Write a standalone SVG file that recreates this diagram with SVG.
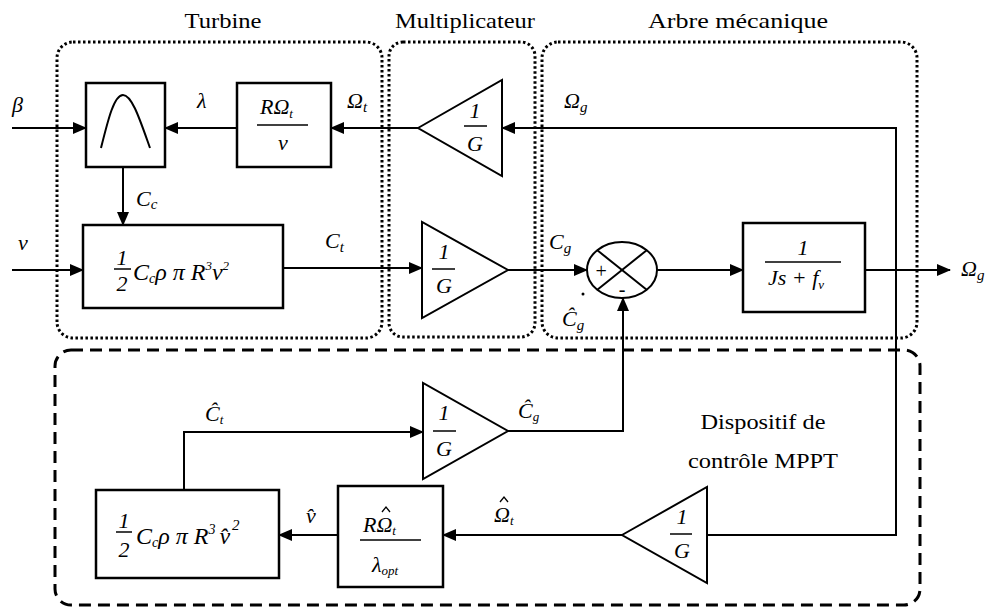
<svg xmlns="http://www.w3.org/2000/svg" width="991" height="607" viewBox="0 0 991 607" font-family="'Liberation Serif', 'DejaVu Serif', 'Times New Roman', serif">
<style>
.blk{fill:#fff;stroke:#000;stroke-width:2.5}
.tri{fill:#fff;stroke:#000;stroke-width:2}
.ln{fill:none;stroke:#000;stroke-width:2}
.hat{fill:none;stroke:#000;stroke-width:1.3}
.dot{fill:none;stroke:#000;stroke-width:3;stroke-dasharray:2.5 2.5}
.dash{fill:none;stroke:#000;stroke-width:3;stroke-dasharray:12 7}
text{font-family:'Liberation Serif','DejaVu Serif',serif;fill:#000}
.m{font-style:italic;font-size:22px}
.f{font-style:italic;font-size:24px}
.lab{font-size:21px}
.fr{stroke:#000;stroke-width:1.5}
</style>
<defs>
<marker id="ah" markerUnits="userSpaceOnUse" markerWidth="14" markerHeight="12" refX="13" refY="6" orient="auto">
<path d="M0,0 L14,6 L0,12 Z" fill="#000"/>
</marker>
</defs>

<g id="frames">
<rect class="dot" x="57" y="42" width="325" height="296" rx="16"/>
<rect class="dot" x="389" y="42" width="146" height="295" rx="14"/>
<rect class="dot" x="542" y="42" width="375" height="296" rx="16"/>
<rect class="dash" x="55" y="350" width="865" height="255" rx="16"/>
<text class="lab" x="223" y="28" text-anchor="middle" textLength="77" lengthAdjust="spacingAndGlyphs">Turbine</text>
<text class="lab" x="465" y="28" text-anchor="middle" textLength="140" lengthAdjust="spacingAndGlyphs">Multiplicateur</text>
<text class="lab" x="738" y="28" text-anchor="middle" textLength="180" lengthAdjust="spacingAndGlyphs">Arbre mécanique</text>
<text class="lab" x="763" y="429" text-anchor="middle" textLength="125" lengthAdjust="spacingAndGlyphs">Dispositif de</text>
<text class="lab" x="763" y="468" text-anchor="middle" textLength="150" lengthAdjust="spacingAndGlyphs">contrôle MPPT</text>
</g>

<g id="connectors">
<path class="ln" d="M12,128 H86" marker-end="url(#ah)"/>
<path class="ln" d="M237,128 H165" marker-end="url(#ah)"/>
<path class="ln" d="M418,128 H331" marker-end="url(#ah)"/>
<path class="ln" d="M707,535 H896 V128 H502" marker-end="url(#ah)"/>
<path class="ln" d="M123,167 V225" marker-end="url(#ah)"/>
<path class="ln" d="M12,270 H83" marker-end="url(#ah)"/>
<path class="ln" d="M283,268 H422" marker-end="url(#ah)"/>
<path class="ln" d="M508,270 H587" marker-end="url(#ah)"/>
<path class="ln" d="M657,270 H743" marker-end="url(#ah)"/>
<path class="ln" d="M865,270 H950" marker-end="url(#ah)"/>
<path class="ln" d="M508,431 H623 V298" marker-end="url(#ah)"/>
<path class="ln" d="M184,490 V432 H423" marker-end="url(#ah)"/>
<path class="ln" d="M622,535 H443" marker-end="url(#ah)"/>
<path class="ln" d="M338,535 H279" marker-end="url(#ah)"/>
<text class="m" x="12" y="112">β</text>
<text class="m" x="197" y="108">λ</text>
<text class="m" x="347" y="108">Ω<tspan font-size="15" dy="4">t</tspan></text>
<text class="m" x="564" y="108">Ω<tspan font-size="15" dy="4">g</tspan></text>
<text class="m" x="136" y="206">C<tspan font-size="15" dy="3">c</tspan></text>
<text class="m" x="18" y="250">v</text>
<text class="m" x="325" y="248">C<tspan font-size="15" dy="4">t</tspan></text>
<text class="m" x="549" y="249">C<tspan font-size="15" dy="4">g</tspan></text>
<text class="m" x="562" y="326">Ĉ<tspan font-size="15" dy="4">g</tspan></text>
<circle cx="583" cy="294" r="1.5" fill="#000"/>
<text class="m" x="961" y="276">Ω<tspan font-size="15" dy="4">g</tspan></text>
<text class="m" x="205" y="421">Ĉ<tspan font-size="13" dy="3">t</tspan></text>
<text class="m" x="518" y="418">Ĉ<tspan font-size="13" dy="3">g</tspan></text>
<text class="m" x="494" y="522">Ω<tspan font-size="13" dy="3">t</tspan></text>
<polyline class="hat" points="500,502 504,497 508,502"/>
<text class="m" x="306" y="523">v&#x302;</text>
</g>

<g id="bell">
<rect class="blk" x="86" y="83" width="79" height="84"/>
<path class="ln" d="M101,148 C108,120 114,95 123,95 C132,95 140,120 150,148"/>
</g>

<g id="ratio">
<rect class="blk" x="237" y="83" width="94" height="84"/>
<text class="m" x="260" y="114">RΩ<tspan font-size="13" dy="4">t</tspan></text>
<line class="fr" x1="257" y1="125" x2="308" y2="125"/>
<text class="m" x="283" y="150" text-anchor="middle">v</text>
</g>

<g id="gain_top">
<polygon class="tri" points="418,128 502,80 502,176"/>
<text class="m" x="475" y="118" text-anchor="middle">1</text>
<line class="fr" x1="464" y1="126" x2="487" y2="126"/>
<text class="m" x="475" y="151" text-anchor="middle">G</text>
</g>

<g id="torque">
<rect class="blk" x="83" y="225" width="200" height="83"/>
<text class="m" x="122" y="265" text-anchor="middle">1</text>
<line class="fr" x1="114" y1="269" x2="131" y2="269"/>
<text class="m" x="122" y="291" text-anchor="middle">2</text>
<text class="f" x="133" y="280">C<tspan font-size="14" dy="3">c</tspan><tspan dy="-3">ρ π R</tspan><tspan font-size="13" dy="-10">3</tspan><tspan dy="10">v</tspan><tspan font-size="13" dy="-10">2</tspan></text>
</g>

<g id="gain_mid">
<polygon class="tri" points="422,222 422,318 508,270"/>
<text class="m" x="444" y="259" text-anchor="middle">1</text>
<line class="fr" x1="432" y1="269" x2="455" y2="269"/>
<text class="m" x="444" y="293" text-anchor="middle">G</text>
</g>

<g id="sum">
<ellipse cx="622" cy="270" rx="35" ry="28" fill="#fff" stroke="#000" stroke-width="2"/>
<line class="ln" x1="597" y1="250" x2="647" y2="290"/>
<line class="ln" x1="647" y1="250" x2="597" y2="290"/>
<text x="601" y="278" font-size="20" font-style="italic" text-anchor="middle">+</text>
<text x="622" y="296" font-size="20" text-anchor="middle">-</text>
</g>

<g id="mech">
<rect class="blk" x="743" y="223" width="122" height="89"/>
<text class="m" x="803" y="255" text-anchor="middle">1</text>
<line class="fr" x1="765" y1="262" x2="841" y2="262"/>
<text class="m" x="768" y="285">Js + <tspan>f</tspan><tspan font-size="13" dy="4">v</tspan></text>
</g>

<g id="gain_hat">
<polygon class="tri" points="423,383 423,479 508,431"/>
<text class="m" x="444" y="420" text-anchor="middle">1</text>
<line class="fr" x1="433" y1="431" x2="456" y2="431"/>
<text class="m" x="444" y="456" text-anchor="middle">G</text>
</g>

<g id="torque_hat">
<rect class="blk" x="96" y="490" width="183" height="88"/>
<text class="m" x="124" y="528" text-anchor="middle">1</text>
<line class="fr" x1="116" y1="532" x2="132" y2="532"/>
<text class="m" x="124" y="557" text-anchor="middle">2</text>
<text class="f" x="136" y="544">C<tspan font-size="14" dy="3">c</tspan><tspan dy="-3">ρ π R</tspan><tspan font-size="14" dy="-10">3</tspan><tspan dy="10" dx="4">v&#x302;</tspan><tspan font-size="15" dy="-14" dx="2">2</tspan></text>
</g>

<g id="ratio_hat">
<rect class="blk" x="338" y="486" width="105" height="101"/>
<text class="m" x="363" y="532">RΩ<tspan font-size="13" dy="3">t</tspan></text>
<polyline class="hat" points="382,512 386,507 390,512"/>
<line class="fr" x1="360" y1="540" x2="421" y2="540"/>
<text class="m" x="372" y="572">λ<tspan font-size="13" dy="3">opt</tspan></text>
</g>

<g id="gain_bot">
<polygon class="tri" points="622,535 707,487 707,583"/>
<text class="m" x="682" y="524" text-anchor="middle">1</text>
<line class="fr" x1="670" y1="534" x2="692" y2="534"/>
<text class="m" x="682" y="558" text-anchor="middle">G</text>
</g>
</svg>
